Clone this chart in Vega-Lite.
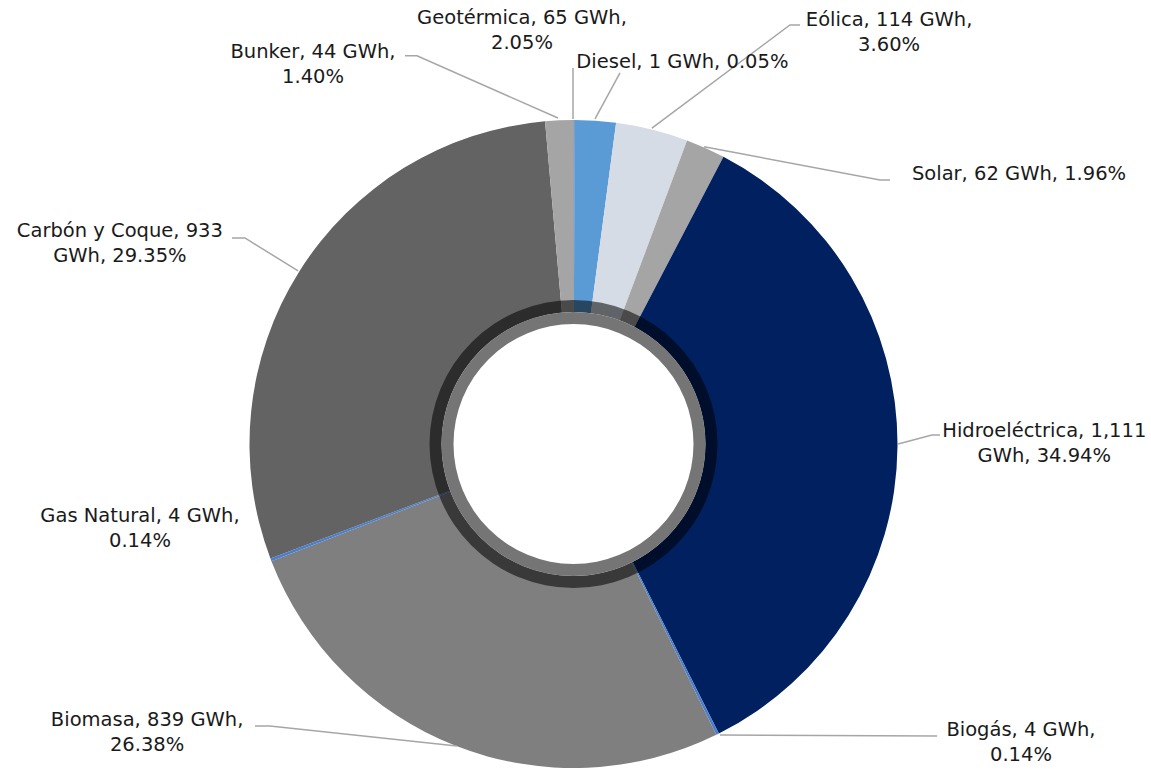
{
  "$schema": "https://vega.github.io/schema/vega-lite/v6.json",
  "autosize": "none",
  "width": 1147,
  "height": 652,
  "padding": {"top": 118, "left": 0, "right": 4, "bottom": 0},
  "background": "white",
  "view": {"stroke": null},
  "datasets": {
    "slices": [
      {"idx": 1, "name": "Diesel", "gwh": 1, "pct": 0.05},
      {"idx": 2, "name": "Geotérmica", "gwh": 65, "pct": 2.05},
      {"idx": 3, "name": "Eólica", "gwh": 114, "pct": 3.60},
      {"idx": 4, "name": "Solar", "gwh": 62, "pct": 1.96},
      {"idx": 5, "name": "Hidroeléctrica", "gwh": 1111, "pct": 34.94},
      {"idx": 6, "name": "Biogás", "gwh": 4, "pct": 0.14},
      {"idx": 7, "name": "Biomasa", "gwh": 839, "pct": 26.38},
      {"idx": 8, "name": "Gas Natural", "gwh": 4, "pct": 0.14},
      {"idx": 9, "name": "Carbón y Coque", "gwh": 933, "pct": 29.35},
      {"idx": 10, "name": "Bunker", "gwh": 44, "pct": 1.40}
    ],
    "labels": [
      {"name": "Geotérmica", "label": "Geotérmica, 65 GWh,\n2.05%", "x": -15.9, "y": 131.5},
      {"name": "Bunker", "label": "Bunker, 44 GWh,\n1.40%", "x": -80.4, "y": 121.0},
      {"name": "Diesel", "label": "Diesel, 1 GWh, 0.05%", "x": 33.6, "y": 117.9},
      {"name": "Eólica", "label": "Eólica, 114 GWh,\n3.60%", "x": 97.4, "y": 130.9},
      {"name": "Solar", "label": "Solar, 62 GWh, 1.96%", "x": 137.5, "y": 83.3},
      {"name": "Carbón y Coque", "label": "Carbón y Coque, 933\nGWh, 29.35%", "x": -140.0, "y": 65.7},
      {"name": "Hidroeléctrica", "label": "Hidroeléctrica, 1,111\nGWh, 34.94%", "x": 145.3, "y": 4.0},
      {"name": "Gas Natural", "label": "Gas Natural, 4 GWh,\n0.14%", "x": -133.8, "y": -22.2},
      {"name": "Biomasa", "label": "Biomasa, 839 GWh,\n26.38%", "x": -131.6, "y": -85.2},
      {"name": "Biogás", "label": "Biogás, 4 GWh,\n0.14%", "x": 138.1, "y": -88.3}
    ],
    "leaders": [
      {"leader": "Geotérmica", "ord": 0, "x": -0.15, "y": 100.3},
      {"leader": "Geotérmica", "ord": 1, "x": -0.15, "y": 116.0},
      {"leader": "Diesel", "ord": 0, "x": 6.64, "y": 100.3},
      {"leader": "Diesel", "ord": 1, "x": 14.35, "y": 114.5},
      {"leader": "Eólica", "ord": 0, "x": 24.2, "y": 97.5},
      {"leader": "Eólica", "ord": 1, "x": 66.8, "y": 129.3},
      {"leader": "Eólica", "ord": 2, "x": 69.9, "y": 129.3},
      {"leader": "Bunker", "ord": 0, "x": -4.8, "y": 100.6},
      {"leader": "Bunker", "ord": 1, "x": -48.3, "y": 119.8},
      {"leader": "Bunker", "ord": 2, "x": -52.0, "y": 119.8},
      {"leader": "Solar", "ord": 0, "x": 40.3, "y": 91.7},
      {"leader": "Solar", "ord": 1, "x": 94.6, "y": 81.5},
      {"leader": "Solar", "ord": 2, "x": 97.7, "y": 81.5},
      {"leader": "Carbón y Coque", "ord": 0, "x": -85.0, "y": 53.4},
      {"leader": "Carbón y Coque", "ord": 1, "x": -101.4, "y": 63.6},
      {"leader": "Carbón y Coque", "ord": 2, "x": -105.4, "y": 63.6},
      {"leader": "Hidroeléctrica", "ord": 0, "x": 100.2, "y": 0.0},
      {"leader": "Hidroeléctrica", "ord": 1, "x": 110.6, "y": 2.8},
      {"leader": "Hidroeléctrica", "ord": 2, "x": 113.1, "y": 2.8},
      {"leader": "Biomasa", "ord": 0, "x": -36.0, "y": -93.2},
      {"leader": "Biomasa", "ord": 1, "x": -93.7, "y": -87.0},
      {"leader": "Biomasa", "ord": 2, "x": -98.3, "y": -87.0},
      {"leader": "Biogás", "ord": 0, "x": 45.2, "y": -89.8},
      {"leader": "Biogás", "ord": 1, "x": 112.2, "y": -90.1}
    ]
  },
  "layer": [
    {
      "data": {"name": "slices"},
      "mark": {"type": "arc", "innerRadius": 132, "outerRadius": 324},
      "encoding": {
        "theta": {"field": "pct", "type": "quantitative", "stack": true},
        "order": {"field": "idx", "type": "quantitative"},
        "color": {
          "field": "name",
          "type": "nominal",
          "scale": {
            "domain": ["Diesel", "Geotérmica", "Eólica", "Solar", "Hidroeléctrica", "Biogás", "Biomasa", "Gas Natural", "Carbón y Coque", "Bunker"],
            "range": ["#264478", "#5b9bd5", "#d6dce5", "#a5a5a5", "#002060", "#4a7fd0", "#7f7f7f", "#4a7fd0", "#636363", "#a5a5a5"]
          },
          "legend": null
        }
      }
    },
    {
      "data": {"values": [{}]},
      "mark": {"type": "arc", "theta": 0, "theta2": 6.2832, "innerRadius": 132, "outerRadius": 144, "color": "black", "opacity": 0.55},
      "encoding": {}
    },
    {
      "data": {"values": [{}]},
      "mark": {"type": "arc", "theta": 0, "theta2": 6.2832, "innerRadius": 120, "outerRadius": 132, "color": "#757575"},
      "encoding": {}
    },
    {
      "data": {"name": "leaders"},
      "mark": {"type": "line", "stroke": "#a6a6a6", "strokeWidth": 1.5},
      "encoding": {
        "x": {"field": "x", "type": "quantitative", "scale": {"domain": [-177, 177], "nice": false, "zero": false}, "axis": null},
        "y": {"field": "y", "type": "quantitative", "scale": {"domain": [-100.6, 100.6], "nice": false, "zero": false}, "axis": null},
        "detail": {"field": "leader"},
        "order": {"field": "ord", "type": "quantitative"}
      }
    },
    {
      "data": {"name": "labels"},
      "mark": {"type": "text", "lineBreak": "\n", "fontSize": 19.5, "font": "DejaVu Sans", "color": "#1a1a1a", "lineHeight": 25, "align": "center", "baseline": "middle"},
      "encoding": {
        "x": {"field": "x", "type": "quantitative"},
        "y": {"field": "y", "type": "quantitative"},
        "text": {"field": "label"}
      }
    }
  ]
}
